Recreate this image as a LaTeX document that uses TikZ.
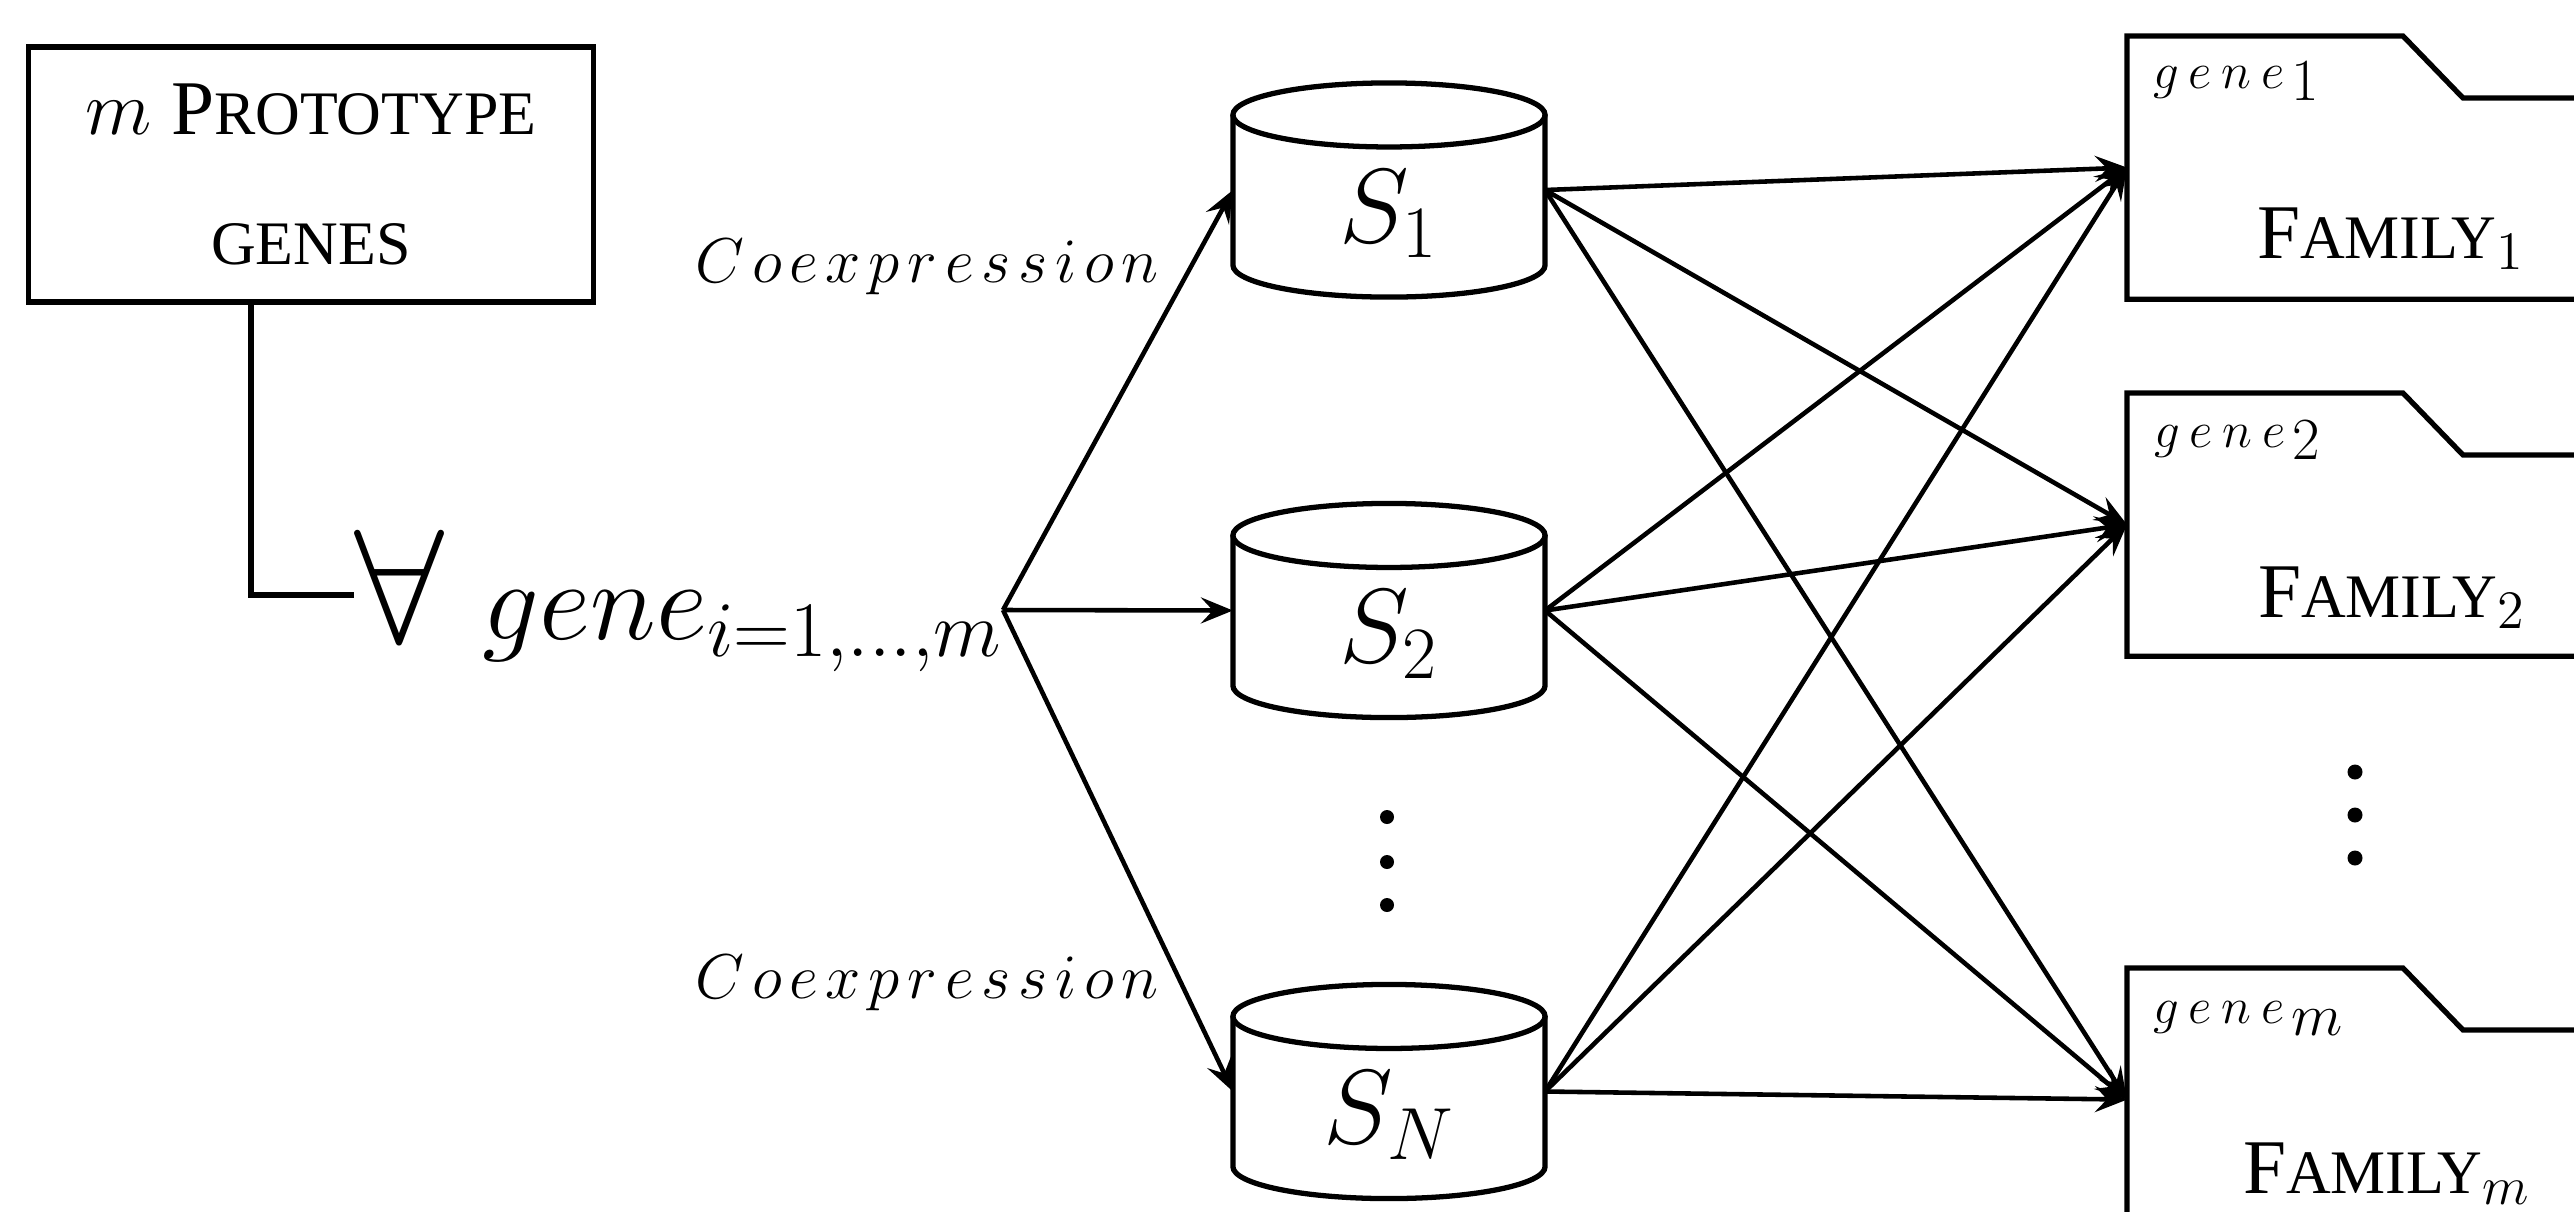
\RequirePackage{fix-cm}
\documentclass[tikz,border=0pt]{standalone}
\usepackage[no-math]{fontspec}
\setmainfont{Liberation Serif}
\usetikzlibrary{arrows.meta,calc}
\newcommand{\smcap}{\fontsize{17.6}{37}\selectfont}
\newcommand{\Slabel}[1]{\raisebox{-14.8pt}[0pt][0pt]{\fontsize{30}{34}\selectfont$#1$}}
\newcommand{\fgene}[1]{{\fontsize{14.5}{16}\selectfont$g\mkern3.5mu e\mkern3.5mu n\mkern3.5mu e$}\kern2pt\raisebox{-3.5pt}{\fontsize{17}{19}\selectfont$#1$}}
\newcommand{\famlabel}[1]{{\fontsize{22}{26}\selectfont F{\fontsize{17.6}{26}\selectfont AMILY}$_{#1}$}}
\newcommand{\coexp}{$C\mkern2.2mu o\mkern2.2mu e\mkern2.2mu x\mkern2.2mu p\mkern2.2mu r\mkern2.2mu e\mkern2.2mu s\mkern2.2mu s\mkern2.2mu i\mkern2.2mu o\mkern2.2mu n$}
\begin{document}
\begin{tikzpicture}[x=0.01cm,y=0.01cm,
  shp/.style={line width=1.5pt},
  conn/.style={line width=1.3pt,-{Stealth[length=0.32cm,width=0.26cm,inset=0.12cm]}},
  cylbox/.style={rectangle,inner sep=0pt,outer sep=0pt,minimum width=3.12cm,minimum height=2.14cm},
  folderbox/.style={rectangle,inner sep=0pt,outer sep=0pt,minimum width=4.47cm,minimum height=2.63cm},
  lbl/.style={inner sep=0pt,outer sep=0pt}]
\useasboundingbox (0,0) rectangle (2574,-1211);
\clip (0,0) rectangle (2574,-1211);
\fill[white] (0,0) rectangle (2574,-1211);

% prototype box
\node[shp,draw,rectangle,minimum width=5.64cm,minimum height=2.55cm,inner sep=0pt,outer sep=0pt,
      align=center,font=\fontsize{22}{37}\selectfont] (proto) at (311,-174.5)
      {$m$ P{\smcap ROTOTYPE}\\{\smcap GENES}};

% forall and gene label
\node[lbl,anchor=west,font=\fontsize{46}{50}\selectfont,text height=32pt,text depth=5.2pt] (forall) at (354,-595) {$\forall$};
\node[lbl,anchor=east,font=\fontsize{32}{36}\selectfont,text height=20pt,text depth=3pt] (gene) at (1003,-610)
      {$gene_{i=1,\ldots,m}$};
\draw[shp] ([xshift=-0.6cm]proto.south) |- (forall.west);

% cylinders
\node[cylbox] (s1) at (1389,-190) {\Slabel{S_1}};
\node[cylbox] (s2) at (1389,-610.5) {\Slabel{S_2}};
\node[cylbox] (sn) at (1389,-1091.5) {\Slabel{S_N}};
\foreach \n in {s1,s2,sn}{
  \draw[shp] ($(\n.north west)+(0,-32)$) -- ($(\n.south west)+(0,32)$)
     arc[start angle=180,end angle=360,x radius=1.56cm,y radius=0.32cm]
     -- ($(\n.north east)+(0,-32)$);
  \draw[shp] ($(\n.north)+(0,-32)$) ellipse[x radius=1.56cm,y radius=0.32cm];
}
\foreach \yy in {817,862,905} \fill (1387,-\yy) circle[radius=0.07cm];

% coexpression labels
\node[lbl,anchor=base east,font=\fontsize{18}{20}\selectfont] (co1) at (1159,-282) {\coexp};
\node[lbl,anchor=base east,font=\fontsize{18}{20}\selectfont] (co2) at (1159,-998) {\coexp};

% folders
\node[folderbox,anchor=north west] (f1) at (2127,-36) {};
\node[folderbox,anchor=north west] (f2) at (2127,-393) {};
\node[folderbox,anchor=north west] (fm) at (2127,-968) {};
\foreach \n in {f1,f2,fm}{
  \draw[shp] (\n.south east) -- (\n.south west) -- (\n.north west)
     -- ($(\n.north west)+(276,0)$) -- ($(\n.north west)+(336,-62)$) -- ($(\n.north east)+(0,-62)$);
}
\node[lbl,anchor=base west] (g1) at (2153,-88) {\fgene{1}};
\node[lbl,anchor=base west] (g2) at (2154,-447) {\fgene{2}};
\node[lbl,anchor=base west] (gm) at (2153,-1023) {\fgene{m}};
\node[lbl,anchor=base west] (fam1) at (2257,-258) {\famlabel{1}};
\node[lbl,anchor=base west] (fam2) at (2258,-617) {\famlabel{2}};
\node[lbl,anchor=base west] (famm) at (2243,-1193) {\famlabel{m}};
\foreach \yy in {772,815,858} \fill (2355,-\yy) circle[radius=0.075cm];

% connectors
\foreach \t in {s1,s2,sn} \draw[conn] (gene.east) -- (\t.west);
\foreach \s in {s1,s2,sn}{
  \foreach \t in {f1,f2,fm} \draw[conn] (\s.east) -- (\t.west);
}
\end{tikzpicture}
\end{document}
